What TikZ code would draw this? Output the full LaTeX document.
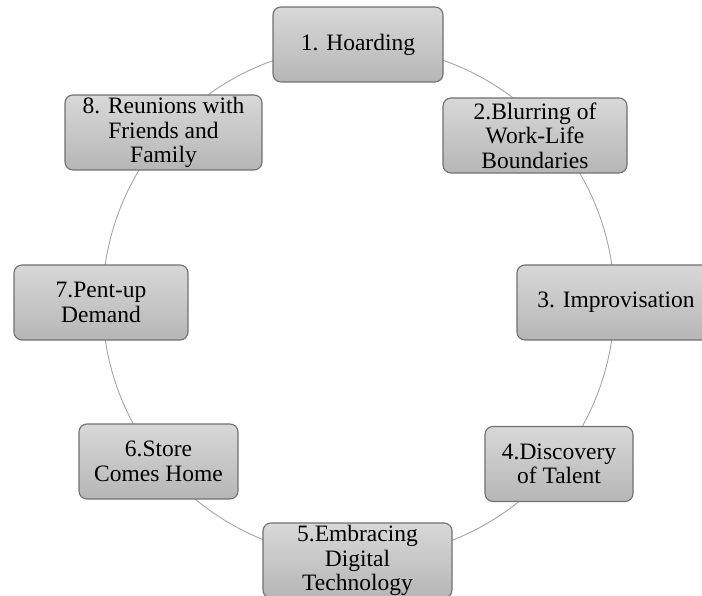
\documentclass[tikz,border=0pt]{standalone}
\usepackage{fontspec}
\setmainfont{Liberation Serif}
\usetikzlibrary{positioning}
\definecolor{ringgray}{RGB}{165,165,165}
\definecolor{edgegray}{RGB}{112,112,112}
\definecolor{filltop}{RGB}{216,216,216}
\definecolor{fillbot}{RGB}{182,182,182}
\tikzset{
  ring/.style={draw=ringgray,line width=0.9pt},
  stagebox/.style={draw=edgegray,line width=1.1pt,top color=filltop,bottom color=fillbot,
                   rounded corners=8pt,minimum height=75pt,inner sep=2pt,align=center,
                   font=\fontsize{23.5}{24.5}\selectfont},
}
\begin{document}
\begin{tikzpicture}[x=1pt,y=1pt]
  \useasboundingbox (0,0) rectangle (702,596);
  \clip (0,0) rectangle (702,596);
  \draw[ring] (358.5,294) circle (256);

  \node[stagebox,minimum width=170pt] (hoard) at (358,551.5) {1. Hoarding};
  \node[stagebox,minimum width=184pt] (blur) at (535,460.5)
    {2.Blurring of\\Work-Life\\Boundaries};
  \node[stagebox,minimum width=198pt] (improv) at (616,293.5) {3. Improvisation};
  \node[stagebox,minimum width=148pt] (talent) at (559,132) {4.Discovery\\of Talent};
  \node[stagebox,minimum width=189pt] (digital) at (357.5,35.5)
    {5.Embracing\\Digital\\Technology};
  \node[stagebox,minimum width=159pt] (store) at (158.5,134.5) {6.Store\\Comes Home};
  \node[stagebox,minimum width=174pt] (pentup) at (101,293.5) {7.Pent-up\\Demand};
  \node[stagebox,minimum width=197pt] (reunion) at (163.5,463.5)
    {8. Reunions with\\Friends and\\Family};
\end{tikzpicture}
\end{document}
